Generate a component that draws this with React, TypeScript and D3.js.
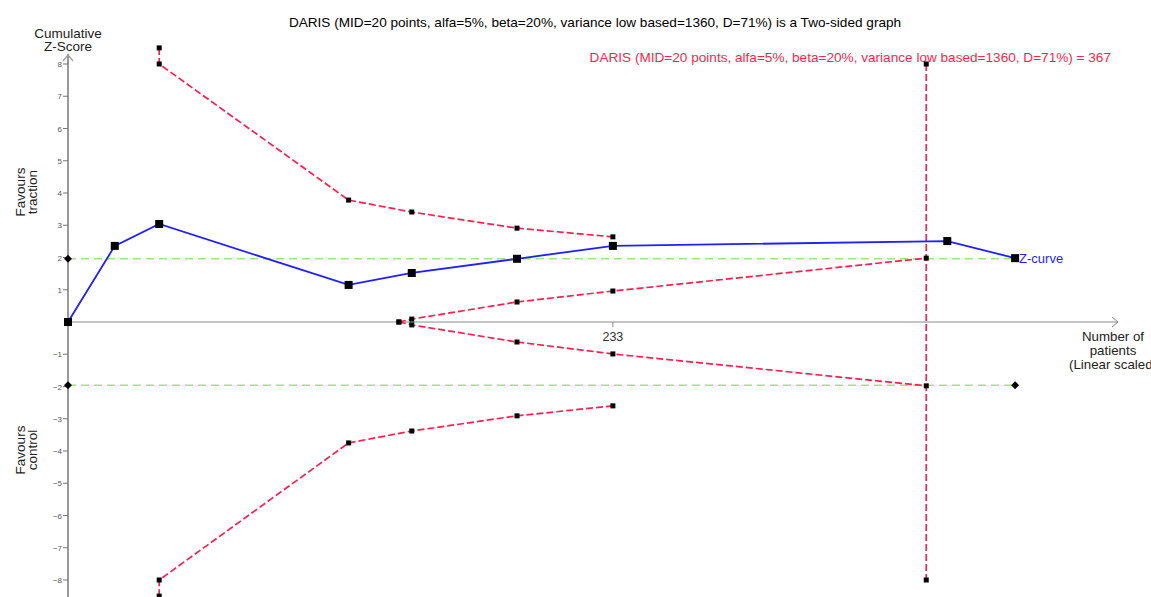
import React from "react";
import * as d3 from "d3";

const W = 1151;
const H = 597;

const zPatients = [0, 20, 39, 120, 147, 192, 233, 376, 405];
const zValues = [0, 2.36, 3.04, 1.15, 1.52, 1.96, 2.36, 2.51, 1.98];

const benefitPatients = [39, 39, 120, 147, 192, 233];
const benefitUpper = [8.5, 8, 3.78, 3.41, 2.91, 2.64];
const benefitLower = [-8.5, -8, -3.75, -3.38, -2.91, -2.6];

const futilityPatients = [141.5, 147, 192, 233, 367];
const futilityUpper = [0, 0.09, 0.62, 0.96, 1.98];
const futilityLower = [0, -0.09, -0.62, -0.99, -1.98];

const risPatients = [367, 367];
const risValues = [8, -8];

const conventionalPatients = [0, 405];
const conventionalZ = [1.96, -1.96];

const yTicks = [8, 7, 6, 5, 4, 3, 2, 1, -1, -2, -3, -4, -5, -6, -7, -8];
const xTicks = [233];

const title =
  "DARIS (MID=20 points, alfa=5%, beta=20%, variance low based=1360, D=71%) is a Two-sided graph";
const risLabel =
  "DARIS (MID=20 points, alfa=5%, beta=20%, variance low based=1360, D=71%) = 367";

const RED = "#ff1f4f";
const BLUE = "#1f1fff";
const GREEN = "#9be87a";
const FONT = "'Liberation Sans', Arial, sans-serif";

export default function App() {
  const x = d3.scaleLinear().domain([0, 449]).range([68, 1118]);
  const y = d3.scaleLinear().domain([-8, 8]).range([580, 64]);

  const line = d3
    .line<[number, number]>()
    .x((d) => x(d[0]))
    .y((d) => y(d[1]));

  const zip = (a: number[], b: number[]) =>
    a.map((v, i) => [v, b[i]] as [number, number]);

  const zPts = zip(zPatients, zValues);
  const bU = zip(benefitPatients, benefitUpper);
  const bL = zip(benefitPatients, benefitLower);
  const fU = zip(futilityPatients, futilityUpper);
  const fL = zip(futilityPatients, futilityLower);
  const ris = zip(risPatients, risValues);

  const smallSq = (pts: [number, number][], key: string) =>
    pts.map((p, i) => (
      <rect
        key={key + i}
        x={x(p[0]) - 2.5}
        y={y(p[1]) - 2.5}
        width={5}
        height={5}
        fill="#000"
      />
    ));

  const diamond = (px: number, py: number, key: string) => (
    <path
      key={key}
      d={`M${px},${py - 4}L${px + 4},${py}L${px},${py + 4}L${px - 4},${py}Z`}
      fill="#000"
    />
  );

  return (
    <svg
      width={W}
      height={H}
      style={{ position: "absolute", left: 0, top: 0, background: "#fff" }}
      fontFamily={FONT}
    >
      {/* Title */}
      <text x={595} y={27} textAnchor="middle" fontSize={13.6} fill="#000">
        {title}
      </text>
      <text x={1111} y={62} textAnchor="end" fontSize={13.6} fill={RED}>
        {risLabel}
      </text>

      {/* Y axis */}
      <line x1={x(0)} x2={x(0)} y1={54} y2={H} stroke="#9a9a9a" strokeWidth={2} />
      <path
        d={`M${x(0) - 5},${61}L${x(0)},${55}L${x(0) + 5},${61}`}
        fill="none"
        stroke="#9a9a9a"
        strokeWidth={1.2}
      />
      {yTicks.map((t) => (
        <g key={"yt" + t}>
          <line x1={x(0) - 5} x2={x(0)} y1={y(t)} y2={y(t)} stroke="#777" strokeWidth={1} />
          <text
            x={x(0) - 6}
            y={y(t) + 3}
            textAnchor="end"
            fontSize={8}
            fill="#555"
          >
            {t < 0 ? "\u2212" + Math.abs(t) : t}
          </text>
        </g>
      ))}
      <text x={68} y={38} textAnchor="middle" fontSize={13.5} fill="#222">
        Cumulative
      </text>
      <text x={68} y={51} textAnchor="middle" fontSize={13.5} fill="#222">
        Z-Score
      </text>
      <g transform="translate(25,192) rotate(-90)">
        <text x={0} y={0} textAnchor="middle" fontSize={13.5} fill="#222">
          Favours
        </text>
        <text x={0} y={12} textAnchor="middle" fontSize={13.5} fill="#222">
          traction
        </text>
      </g>
      <g transform="translate(25,450) rotate(-90)">
        <text x={0} y={0} textAnchor="middle" fontSize={13.5} fill="#222">
          Favours
        </text>
        <text x={0} y={12} textAnchor="middle" fontSize={13.5} fill="#222">
          control
        </text>
      </g>

      {/* X axis */}
      <line x1={x(0)} x2={1117} y1={y(0)} y2={y(0)} stroke="#8a8a8a" strokeWidth={1} />
      <path
        d={`M1112,${y(0) - 5}L1118,${y(0)}L1112,${y(0) + 5}`}
        fill="none"
        stroke="#8a8a8a"
        strokeWidth={1}
      />
      {xTicks.map((t) => (
        <g key={"xt" + t}>
          <line x1={x(t)} x2={x(t)} y1={y(0)} y2={y(0) + 5} stroke="#888" />
          <text x={x(t)} y={341} textAnchor="middle" fontSize={12.5} fill="#333">
            {t}
          </text>
        </g>
      ))}
      <text x={1113} y={341} textAnchor="middle" fontSize={13.3} fill="#222">
        Number of
      </text>
      <text x={1113} y={355} textAnchor="middle" fontSize={13.3} fill="#222">
        patients
      </text>
      <text x={1113} y={369} textAnchor="middle" fontSize={13.3} fill="#222">
        (Linear scaled)
      </text>

      {/* Conventional boundaries */}
      {conventionalZ.map((z, i) => (
        <g key={"cz" + i}>
          <line
            x1={x(conventionalPatients[0])}
            x2={x(conventionalPatients[1])}
            y1={y(z)}
            y2={y(z)}
            stroke={GREEN}
            strokeWidth={1.5}
            strokeDasharray="8,5"
          />
          {diamond(x(conventionalPatients[0]), y(z), "dl" + i)}
          {z < 0 && diamond(x(conventionalPatients[1]), y(z), "dr" + i)}
        </g>
      ))}

      {/* Monitoring boundaries */}
      {[bU, bL, fU, fL, ris].map((pts, i) => (
        <path
          key={"b" + i}
          d={line(pts) || ""}
          fill="none"
          stroke={RED}
          strokeWidth={1.7}
          strokeDasharray="7,3"
        />
      ))}
      {smallSq(bU, "bu")}
      {smallSq(bL, "bl")}
      {smallSq(fU, "fu")}
      {smallSq(fL, "fl")}
      {smallSq(ris, "ris")}

      {/* Z-curve */}
      <path d={line(zPts) || ""} fill="none" stroke={BLUE} strokeWidth={1.8} />
      {zPts.map((p, i) => (
        <rect
          key={"z" + i}
          x={x(p[0]) - 4}
          y={y(p[1]) - 4}
          width={8}
          height={8}
          fill="#000"
        />
      ))}
      <text
        x={x(zPatients[zPatients.length - 1]) + 4}
        y={y(zValues[zValues.length - 1]) + 4.5}
        fontSize={13}
        fill={BLUE}
      >
        Z-curve
      </text>
    </svg>
  );
}
